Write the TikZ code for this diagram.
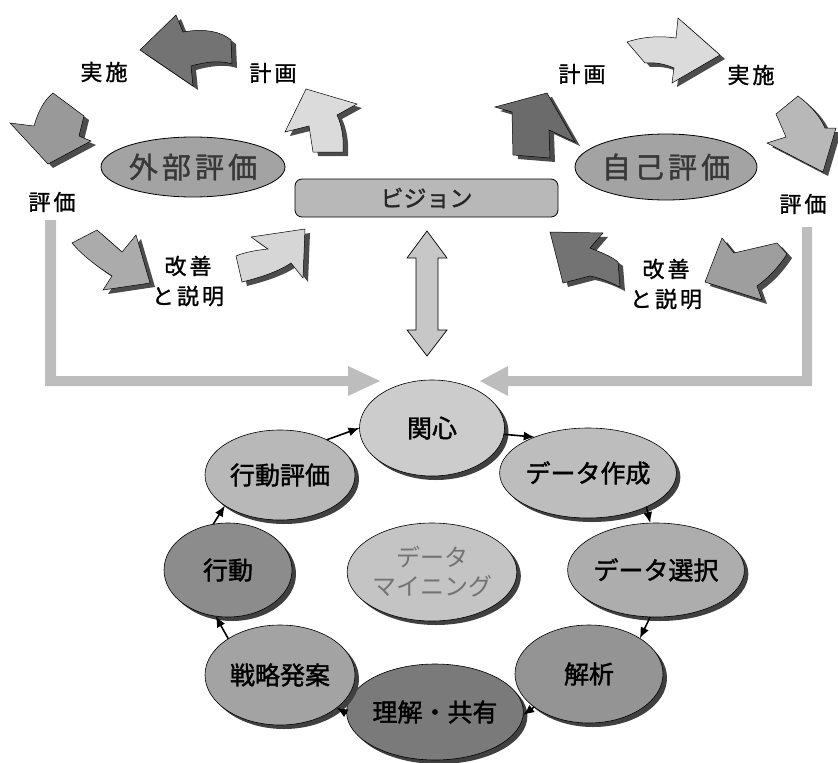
\documentclass[tikz,border=0pt]{standalone}
\usepackage{fontspec}
\setmainfont{Noto Sans CJK JP}[AutoFakeBold=1.5]
\newfontfamily\labfont{Noto Sans CJK JP}[LetterSpace=14,AutoFakeBold=1.2]
\usetikzlibrary{shapes.geometric,shadows,arrows.meta}
\definecolor{cA}{gray}{0.80}
\definecolor{cB}{gray}{0.74}
\definecolor{cC}{gray}{0.68}
\definecolor{cD}{gray}{0.58}
\definecolor{cE}{gray}{0.48}
\definecolor{cF}{gray}{0.64}
\definecolor{cG}{gray}{0.55}
\definecolor{cH}{gray}{0.72}
\definecolor{cI}{gray}{0.77}
\definecolor{longgray}{gray}{0.74}
\tikzset{
  shd/.style={drop shadow={shadow xshift=4pt, shadow yshift=-4pt, fill=black!75, opacity=1}},
  cyc/.style={ellipse, draw=black, line width=0.6pt, inner sep=0pt, outer sep=0pt,
    font=\fontsize{25}{28}\selectfont\bfseries, text=black, shd},
  topell/.style={ellipse, draw=black, line width=0.8pt, fill=black!36, inner sep=0pt, outer sep=0pt,
    font=\labfont\fontsize{29}{30}\selectfont\bfseries, text=black!78},
  lab/.style={font=\labfont\fontsize{22}{30}\selectfont\bfseries, text=black, align=center, inner sep=0pt},
  barrow/.style={fill=#1, draw=black, line width=0.5pt,
    drop shadow={shadow xshift=5pt, shadow yshift=-4pt, fill=black!70, opacity=1}},
  cycarrow/.style={draw=black, line width=1.6pt, -{Latex[length=11pt,width=9pt]}},
  longarrow/.style={fill=longgray, draw=none},
  dblarrow/.style={fill=black!22, draw=black, line width=0.7pt}
}
\begin{document}
\begin{tikzpicture}[x=1pt,y=-1pt]
\useasboundingbox (0,0) rectangle (838,763);

% ---- long gray arrows ----
\path[longarrow] (45,220) -- (56,220) -- (56,376) -- (348,376) -- (348,366) -- (380,381)
  -- (348,396) -- (348,386) -- (45,386) -- cycle;
\path[longarrow] (812,227) -- (802,227) -- (802,376) -- (508,376) -- (508,366) -- (480,381)
  -- (508,396) -- (508,386) -- (812,386) -- cycle;

% ---- top ellipses and vision ----
\node[topell, minimum width=184pt, minimum height=60pt] (gaibu) at (193,167) {外部評価};
\node[topell, minimum width=182pt, minimum height=66pt] (jiko) at (666,167) {自己評価};
\node[rectangle, rounded corners=7pt, draw=black, line width=0.8pt, fill=black!28,
  minimum width=263pt, minimum height=38pt, inner sep=0pt,
  font=\fontsize{23}{24}\selectfont\bfseries, text=black!85] (vision) at (426.5,198) {ビジョン};

% ---- double arrow ----
\filldraw[dblarrow] (427,231) -- (447,258) -- (438,258) -- (438,330) -- (447,330) -- (427,356)
  -- (407,330) -- (416,330) -- (416,258) -- (407,258) -- cycle;

% ---- block arrows, left cycle ----
\filldraw[barrow=black!55] (140,50) -- (176,15) -- (183,32) .. controls (205,28) and (222,32) .. (231,40)
  -- (232,64) .. controls (220,60) and (205,62) .. (191,66) -- (193,86) -- cycle;
\filldraw[barrow=black!40] (53,93) -- (84,116) -- (79,136) -- (91,141) -- (48,164) -- (10,123)
  -- (34,126) .. controls (38,112) and (44,100) .. (53,93) -- cycle;
\filldraw[barrow=black!33] (72,243) -- (97,230) -- (122,252) -- (136,235) -- (150,283) -- (103,290)
  -- (112,276) .. controls (95,265) and (82,255) .. (72,243) -- cycle;
\filldraw[barrow=black!16] (236,256) .. controls (245,252) and (258,250) .. (268,249) -- (251,237)
  -- (305,229) -- (303,278) -- (291,263) .. controls (278,272) and (258,278) .. (242,282) -- cycle;
\filldraw[barrow=black!14] (306,89) -- (357,104) -- (337,115) .. controls (342,125) and (344,140) .. (343,152)
  -- (313,152) -- (309,126) -- (285,132) -- cycle;

% ---- block arrows, right cycle ----
\filldraw[barrow=black!58] (547,93) -- (575,142) -- (549,130) -- (550,158) -- (513,155) -- (512,112)
  -- (495,107) -- cycle;
\filldraw[barrow=black!14] (627,42) .. controls (645,36) and (662,36) .. (676,38) -- (678,18) -- (720,55)
  -- (672,83) -- (674,68) .. controls (665,64) and (655,62) .. (645,63) -- cycle;
\filldraw[barrow=black!28] (798,96) .. controls (810,105) and (820,116) .. (825,128) -- (836,128)
  -- (823,172) -- (767,143) -- (786,137) -- (776,114) -- cycle;
\filldraw[barrow=black!38] (705,282) -- (722,238) -- (734,253) -- (777,243) -- (787,254)
  .. controls (778,268) and (768,278) .. (757,286) -- (762,300) -- cycle;
\filldraw[barrow=black!55] (550,232) -- (603,233) -- (590,248) .. controls (600,252) and (611,256) .. (618,262)
  -- (620,287) .. controls (610,282) and (600,278) .. (590,276) -- (563,283) -- cycle;

% ---- labels ----
\node[lab] (jissiL) at (104,72) {実施};
\node[lab] (keikakuL) at (273,73) {計画};
\node[lab] (hyokaL) at (52,202) {評価};
\node[lab] (kaizenL) at (188,281) {改善\\と説明};
\node[lab] (keikakuR) at (582,74) {計画};
\node[lab] (jissiR) at (751,75) {実施};
\node[lab] (hyokaR) at (803,204) {評価};
\node[lab] (kaizenR) at (666,284) {改善\\と説明};

% ---- data mining cycle ----
\node[cyc, fill=cA, minimum width=145pt, minimum height=96pt] (kanshin) at (432,428) {関心};
\node[cyc, fill=cB, minimum width=147pt, minimum height=90pt] (sakusei) at (588,473) {データ作成};
\node[cyc, fill=cC, minimum width=156pt, minimum height=94pt] (sentaku) at (656,570) {データ選択};
\node[cyc, fill=cD, minimum width=148pt, minimum height=98pt] (kaiseki) at (589,674) {解析};
\node[cyc, fill=cE, minimum width=146pt, minimum height=96pt] (rikai) at (435,712) {理解・共有};
\node[cyc, fill=cF, minimum width=150pt, minimum height=100pt] (senryaku) at (280,675) {戦略発案};
\node[cyc, fill=cG, minimum width=128pt, minimum height=94pt] (kodo) at (228,570) {行動};
\node[cyc, fill=cH, minimum width=150pt, minimum height=90pt] (kodohyoka) at (280,475) {行動評価};
\node[cyc, fill=cI, minimum width=145pt, minimum height=98pt, text=black!55, align=center,
  font=\fontsize{24}{29}\selectfont] (mining) at (432,572) {データ\\マイニング};

\draw[cycarrow] (kanshin.-5) -- (sakusei.146);
\draw[cycarrow] (sakusei.-30) -- (sentaku.97);
\draw[cycarrow] (sentaku.-97) -- (kaiseki.35);
\draw[cycarrow] (kaiseki.211) -- (rikai.-2);
\draw[cycarrow] (rikai.181) -- (senryaku.-30);
\draw[cycarrow] (senryaku.145) -- (kodo.255);
\draw[cycarrow] (kodo.108) -- (kodohyoka.209);
\draw[cycarrow] (kodohyoka.37) -- (kanshin.180);
\end{tikzpicture}
\end{document}
